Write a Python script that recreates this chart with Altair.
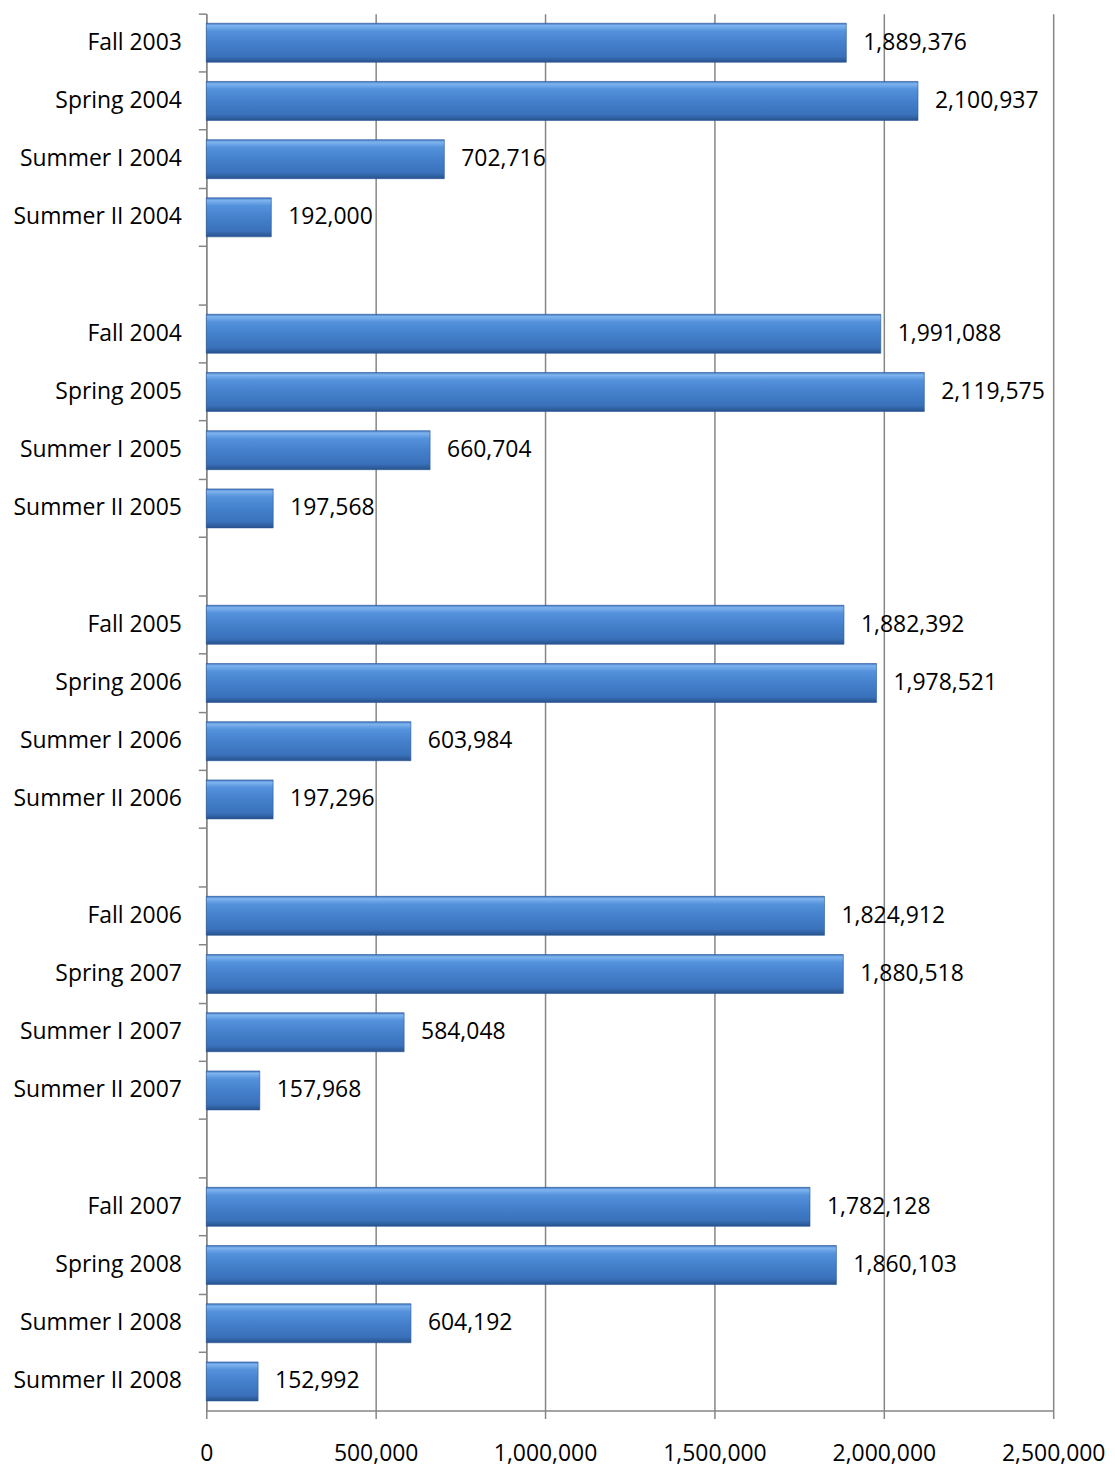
import altair as alt
import pandas as pd

categories = [
    "Fall 2003", "Spring 2004", "Summer I 2004", "Summer II 2004", " ",
    "Fall 2004", "Spring 2005", "Summer I 2005", "Summer II 2005", "  ",
    "Fall 2005", "Spring 2006", "Summer I 2006", "Summer II 2006", "   ",
    "Fall 2006", "Spring 2007", "Summer I 2007", "Summer II 2007", "    ",
    "Fall 2007", "Spring 2008", "Summer I 2008", "Summer II 2008",
]
values = [
    1889376, 2100937, 702716, 192000, None,
    1991088, 2119575, 660704, 197568, None,
    1882392, 1978521, 603984, 197296, None,
    1824912, 1880518, 584048, 157968, None,
    1782128, 1860103, 604192, 152992,
]
x_ticks = [0, 500000, 1000000, 1500000, 2000000, 2500000]

rows = [{"term": c, "value": v} for c, v in zip(categories, values) if v is not None]
bars_df = pd.DataFrame(rows)

FONT = "Open Sans"
FS = 23
GRAY = "#868686"

y_enc = alt.Y(
    "term:N",
    sort=categories,
    scale=alt.Scale(domain=categories, paddingInner=0, paddingOuter=0),
    axis=alt.Axis(
        title=None,
        bandPosition=0,
        labelOffset=0,
        tickSize=8,
        tickColor=GRAY,
        tickWidth=1.5,
        domainColor=GRAY,
        domainWidth=1.5,
        labelFont=FONT,
        labelFontSize=FS,
        labelColor="#000000",
        labelPadding=17,
        grid=False,
    ),
)

x_enc = alt.X(
    "value:Q",
    scale=alt.Scale(domain=[0, 2500000], nice=False),
    axis=alt.Axis(
        title=None,
        values=x_ticks,
        labelExpr="format(datum.value, ',')",
        grid=True,
        gridColor=GRAY,
        gridWidth=1.5,
        tickSize=8,
        tickColor=GRAY,
        tickWidth=1.5,
        domainColor=GRAY,
        domainWidth=1.5,
        labelFont=FONT,
        labelFontSize=FS,
        labelColor="#000000",
        labelPadding=24,
        labelFlush=False,
    ),
)

gradient = alt.Gradient(
    gradient="linear",
    x1=0, y1=0, x2=0, y2=1,
    stops=[
        alt.GradientStop(offset=0.0, color="#3c72c0"),
        alt.GradientStop(offset=0.06, color="#7fb4ef"),
        alt.GradientStop(offset=0.2, color="#5592dc"),
        alt.GradientStop(offset=0.5, color="#4480cc"),
        alt.GradientStop(offset=0.85, color="#3a71bb"),
        alt.GradientStop(offset=1.0, color="#27528c"),
    ],
)

bars = alt.Chart(bars_df).mark_bar(
    color=gradient, stroke="#2a5897", strokeWidth=0.6, height=alt.RelativeBandSize(0.67)
).encode(y=y_enc, x=x_enc)

labels = alt.Chart(bars_df).mark_text(
    align="left", baseline="middle", dx=17, font=FONT, fontSize=FS, color="#000000"
).encode(
    y=alt.Y("term:N", sort=categories),
    x=x_enc,
    text=alt.Text("value:Q", format=","),
)

chart = (
    alt.layer(bars, labels)
    .properties(width=850, height=1402, padding={"left": 4, "top": 2, "right": 2, "bottom": 2})
    .configure(background="#ffffff")
    .configure_view(strokeWidth=0)
)

chart.save("out.html", embed_options={"renderer": "svg", "actions": False})
